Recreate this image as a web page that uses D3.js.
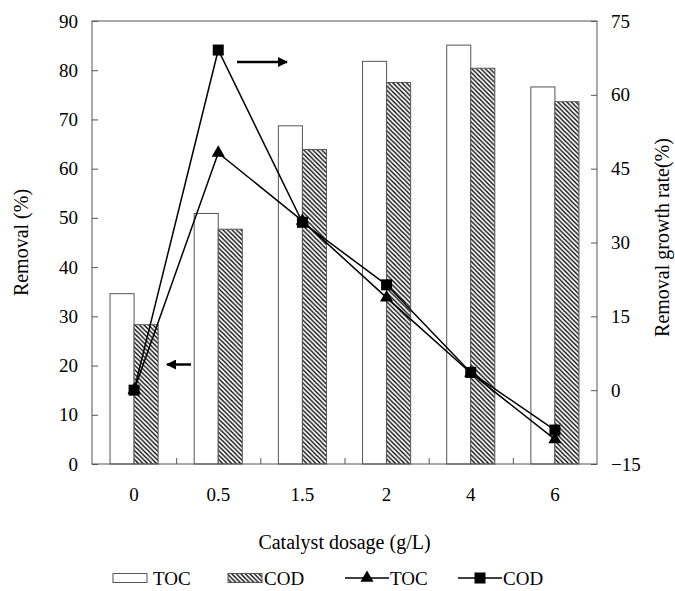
<!DOCTYPE html>
<html>
<head>
<meta charset="utf-8">
<script src="https://cdn.jsdelivr.net/npm/d3@7"></script>
<style>
  body { margin: 0; background: #fff; }
</style>
</head>
<body>
<svg id="chart" width="675" height="591"></svg>
<script>
// data
const dosages = ['0', '0.5', '1.5', '2', '4', '6'];
const removalTOC = [34.6, 50.9, 68.7, 81.8, 85.1, 76.6];
const removalCOD = [28.3, 47.7, 63.9, 77.5, 80.4, 73.6];
const growthTOC = [0, 48.2, 34.4, 18.8, 3.5, -10.0];
const growthCOD = [0, 69.1, 34.1, 21.4, 3.6, -8.1];
const leftTicks = [0, 10, 20, 30, 40, 50, 60, 70, 80, 90];
const rightTicks = [-15, 0, 15, 30, 45, 60, 75];
const legendLabels = ['TOC', 'COD', 'TOC', 'COD'];

const width = 675, height = 591;
const margin = {left: 92, right: 78, top: 21, bottom: 127};
const innerW = width - margin.left - margin.right;
const innerH = height - margin.top - margin.bottom;
const serif = "'Liberation Serif', serif";

const svg = d3.select('#chart');

const defs = svg.append('defs');
const hatch = defs.append('pattern').attr('id', 'hatch')
  .attr('patternUnits', 'userSpaceOnUse')
  .attr('width', 4.5).attr('height', 4.5);
hatch.append('rect').attr('width', 4.5).attr('height', 4.5).attr('fill', '#fff');
hatch.append('path')
  .attr('d', 'M-1,-1L5.5,5.5M-1,3.5L1,5.5M3.5,-1L5.5,1')
  .attr('stroke', '#000').attr('stroke-width', 1.3);

const g = svg.append('g').attr('transform', `translate(${margin.left},${margin.top})`);

const x = d3.scaleBand().domain(dosages).range([0, innerW]);
const x1 = d3.scaleBand().domain(['TOC', 'COD']).range([0, x.bandwidth()]).paddingOuter(0.75);
const xi = d3.scaleLinear().domain([0, dosages.length]).range([0, innerW]);
const yL = d3.scaleLinear().domain([0, 90]).range([innerH, 0]);
const yR = d3.scaleLinear().domain([-15, 75]).range([innerH, 0]);

// bars
const rows = dosages.map((d, i) => ({d, TOC: removalTOC[i], COD: removalCOD[i]}));
const grp = g.selectAll('.grp').data(rows).join('g')
  .attr('transform', d => `translate(${x(d.d)},0)`);
grp.selectAll('rect').data(d => ['TOC', 'COD'].map(k => ({k, v: d[k]}))).join('rect')
  .attr('x', d => x1(d.k))
  .attr('width', x1.bandwidth())
  .attr('y', d => yL(d.v))
  .attr('height', d => innerH - yL(d.v))
  .attr('fill', d => d.k === 'TOC' ? '#fff' : 'url(#hatch)')
  .attr('stroke', '#555').attr('stroke-width', 1);

// axes
const axL = g.append('g').call(d3.axisLeft(yL).tickValues(leftTicks).tickSize(-6).tickPadding(14));
const axR = g.append('g').attr('transform', `translate(${innerW},0)`)
  .call(d3.axisRight(yR).tickValues(rightTicks).tickSize(-6).tickPadding(14));
const axB = g.append('g').attr('transform', `translate(0,${innerH})`)
  .call(d3.axisBottom(xi).tickValues([1, 2, 3, 4, 5]).tickSize(-6).tickFormat(''));
const axC = g.append('g').attr('transform', `translate(0,${innerH})`)
  .call(d3.axisBottom(x).tickSize(0).tickPadding(24));
[axL, axR, axB, axC].forEach(a => {
  a.select('.domain').remove();
  a.selectAll('line').attr('stroke', '#555');
  a.selectAll('text').style('font-family', serif).style('font-size', '19px').attr('fill', '#000');
});

g.append('rect').attr('width', innerW).attr('height', innerH)
  .attr('fill', 'none').attr('stroke', '#555').attr('stroke-width', 1);

// lines
const cx = d => x(d) + x.bandwidth() / 2;
const line = d3.line().x((v, i) => cx(dosages[i])).y(v => yR(v));
g.append('path').attr('d', line(growthTOC)).attr('fill', 'none').attr('stroke', '#000').attr('stroke-width', 1.5);
g.append('path').attr('d', line(growthCOD)).attr('fill', 'none').attr('stroke', '#000').attr('stroke-width', 1.5);
g.selectAll('.tri').data(growthTOC).join('path')
  .attr('transform', (v, i) => `translate(${cx(dosages[i])},${yR(v)})`)
  .attr('d', d3.symbol(d3.symbolTriangle, 75)).attr('fill', '#000');
g.selectAll('.sq').data(growthCOD).join('rect')
  .attr('x', (v, i) => cx(dosages[i]) - 5.5).attr('y', v => yR(v) - 5.5)
  .attr('width', 11).attr('height', 11).attr('fill', '#000');

// arrows
defs.append('marker').attr('id', 'ah').attr('viewBox', '0 0 10 10')
  .attr('refX', 9).attr('refY', 5).attr('markerWidth', 10).attr('markerHeight', 10)
  .attr('markerUnits', 'userSpaceOnUse').attr('orient', 'auto')
  .append('path').attr('d', 'M0,0L10,5L0,10Z').attr('fill', '#000');
svg.append('line').attr('x1', 237).attr('y1', 62).attr('x2', 287).attr('y2', 62)
  .attr('stroke', '#000').attr('stroke-width', 2.5).attr('marker-end', 'url(#ah)');
svg.append('line').attr('x1', 191).attr('y1', 364.5).attr('x2', 167).attr('y2', 364.5)
  .attr('stroke', '#000').attr('stroke-width', 2.5).attr('marker-end', 'url(#ah)');

// axis titles
const title = (t) => svg.append('text').style('font-family', serif).style('font-size', '20px')
  .attr('text-anchor', 'middle').text(t);
title('Removal (%)').attr('transform', `translate(28,${margin.top + innerH / 2}) rotate(-90)`);
title('Removal growth rate(%)').attr('transform', `translate(669,${margin.top + innerH / 2 - 5}) rotate(-90)`);
title('Catalyst dosage (g/L)').attr('x', margin.left + innerW / 2).attr('y', 549);

// legend
const ly = 578;
const lg = svg.append('g');
const items = [
  {x: 113, type: 'box', fill: '#fff', tx: 153},
  {x: 228, type: 'box', fill: 'url(#hatch)', tx: 264},
  {x: 345, type: 'tri', tx: 390},
  {x: 458, type: 'sq', tx: 503}
];
items.forEach((it, i) => {
  if (it.type === 'box') {
    lg.append('rect').attr('x', it.x).attr('y', ly - 4.5).attr('width', 34).attr('height', 9)
      .attr('fill', it.fill).attr('stroke', '#555');
  } else {
    lg.append('line').attr('x1', it.x).attr('x2', it.x + 44).attr('y1', ly).attr('y2', ly)
      .attr('stroke', '#000').attr('stroke-width', 1.5);
    if (it.type === 'tri') {
      lg.append('path').attr('transform', `translate(${it.x + 22},${ly})`)
        .attr('d', d3.symbol(d3.symbolTriangle, 75)).attr('fill', '#000');
    } else {
      lg.append('rect').attr('x', it.x + 22 - 5.5).attr('y', ly - 5.5).attr('width', 11).attr('height', 11).attr('fill', '#000');
    }
  }
  lg.append('text').attr('x', it.tx).attr('y', ly + 6.5)
    .style('font-family', serif).style('font-size', '19px').text(legendLabels[i]);
});
</script>
</body>
</html>
